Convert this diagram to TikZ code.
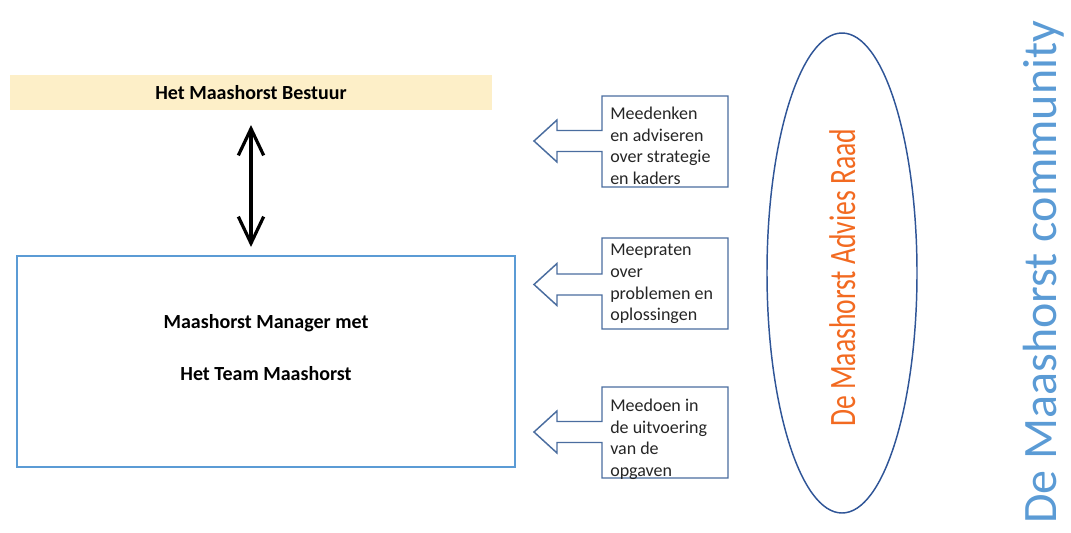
\documentclass[tikz,border=0pt]{standalone}
\usepackage{fontspec}
\setmainfont{Carlito}
\usetikzlibrary{arrows.meta}
\definecolor{band}{HTML}{FDEFC8}
\definecolor{mblue}{HTML}{5B9BD5}
\definecolor{cline}{HTML}{4A6D9F}
\definecolor{eline}{HTML}{2F5597}
\definecolor{orng}{HTML}{F26A21}
\definecolor{ctext}{HTML}{262626}
\tikzset{
  px/.style={x=0.75pt,y=-0.75pt},
  boldtxt/.style={font=\fontsize{15pt}{18pt}\selectfont\bfseries, text=black, inner sep=0pt},
  calltxt/.style={font=\fontsize{13.5pt}{16.2pt}\selectfont, text=ctext, align=left, inner sep=0pt, anchor=north west},
  callout/.style={draw=cline, line width=1.1pt, fill=white, line join=miter},
}
\begin{document}
\begin{tikzpicture}[px]
\useasboundingbox (0,0) rectangle (1071,532);
% Bestuur band
\node[fill=band, minimum width=482*0.75pt, minimum height=35*0.75pt, inner sep=0pt] (bestuur) at (251,92.5) {};
\node[boldtxt] (bestuurtxt) at (bestuur.center) {Het Maashorst Bestuur};
% Manager box
\node[draw=mblue, line width=1.9pt, minimum width=498*0.75pt, minimum height=211*0.75pt, inner sep=0pt] (manager) at (266,361.5) {};
\node[boldtxt] (mantxt1) at (266,323) {Maashorst Manager met};
\node[boldtxt] (mantxt2) at (266,374) {Het Team Maashorst};
% double arrow
\coordinate (atop) at (251,125);
\coordinate (abot) at (251,247);
\draw[line width=2.4pt, {Straight Barb[length=20pt,width=19pt]}-{Straight Barb[length=20pt,width=19pt]}] (atop) -- (abot);
% callouts
\newcommand{\callout}[3]{%
  \draw[callout] (602,#1) -- (728,#1) -- (728,#1+91) -- (602,#1+91) -- (602,#2+10.5)
    -- (557,#2+10.5) -- (557,#2+21) -- (534,#2) -- (557,#2-21) -- (557,#2-10.5) -- (602,#2-10.5) -- cycle;
}
\callout{96}{141}{}
\callout{238}{284.5}{}
\callout{387}{432}{}
\node[calltxt] (c1) at (610,107) {Meedenken\\en adviseren\\over strategie\\en kaders};
\node[calltxt] (c2) at (610,244) {Meepraten\\over\\problemen  en\\oplossingen};
\node[calltxt] (c3) at (610,399) {Meedoen in\\de uitvoering\\van de\\opgaven};
% ellipse
\draw[eline, line width=1.1pt] (842,273) ellipse [x radius=75, y radius=240];
\node[rotate=90, anchor=base west, inner sep=0pt, text=orng, font=\fontsize{20.7pt}{24pt}\selectfont] (raad) at (855,427) {\scalebox{1}[1.35]{De Maashorst Advies Raad}};
% community
\node[rotate=90, anchor=base west, inner sep=0pt, text=mblue, font=\fontsize{36pt}{44pt}\selectfont] (community) at (1056,524) {De Maashorst community};
\end{tikzpicture}
\end{document}
